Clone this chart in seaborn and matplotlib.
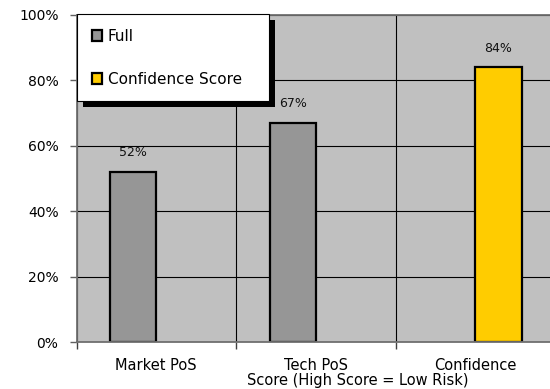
import matplotlib
matplotlib.use("Agg")
import matplotlib.pyplot as plt
import matplotlib.patches as mpatches
import seaborn as sns
import pandas as pd
from matplotlib.ticker import PercentFormatter, FixedLocator

categories = ["Market PoS", "Tech PoS", "Confidence"]
series = ["Full", "Full", "Confidence Score"]
values = [0.52, 0.67, 0.84]
series_order = ["Full", "Confidence Score"]
series_colors = {"Full": "#969696", "Confidence Score": "#FFCC00"}
y_ticks = [0, 0.2, 0.4, 0.6, 0.8, 1.0]
label_second_line = "Score (High Score = Low Risk)"

df = pd.DataFrame({"category": categories, "series": series, "value": values})

sns.set_theme(style="white")
plt.rcParams["font.family"] = ["DejaVu Sans"]

W, H, DPI = 550, 389, 100
fig = plt.figure(figsize=(W / DPI, H / DPI), dpi=DPI)
ax = fig.add_axes([76.5 / W, 1 - 342 / H, (555.2 - 76.5) / W, (342 - 15) / H])
ax.set_facecolor("#C0C0C0")

sns.barplot(data=df, x="category", y="value", hue="series", hue_order=series_order,
            order=categories, palette=series_colors, width=0.58, dodge=True,
            edgecolor="black", linewidth=1.6, saturation=1, errorbar=None, ax=ax)

ax.set_xlim(-0.5, 2.5)
ax.set_ylim(0, 1.0)
ax.set_xlabel("")
ax.set_ylabel("")

# y axis
ax.yaxis.set_major_locator(FixedLocator(y_ticks))
ax.yaxis.set_major_formatter(PercentFormatter(1.0, decimals=0))
ax.tick_params(axis="y", which="major", direction="out", length=5, width=1,
               color="#606060", pad=8, labelsize=10, labelcolor="black", left=True)
ax.grid(axis="y", which="major", color="black", linewidth=0.8)

# x axis
ax.set_xticks(range(len(categories)))
ax.set_xticklabels(categories)
ax.set_xticks([-0.5, 0.5, 1.5, 2.5], minor=True)
ax.tick_params(axis="x", which="major", length=0, pad=11.5, labelsize=10.5, labelcolor="black")
ax.tick_params(axis="x", which="minor", direction="out", length=5, width=1,
               color="#404040", bottom=True)
ax.grid(axis="x", which="minor", color="black", linewidth=0.8)
ax.grid(axis="x", which="major", visible=False)
ax.set_axisbelow(True)

for side in ["left", "bottom", "top", "right"]:
    ax.spines[side].set_visible(True)
    ax.spines[side].set_color("#707070")
    ax.spines[side].set_linewidth(1.3)

# second line of third category label
ax.annotate(label_second_line, xy=(1.26, 0), xycoords=("data", "axes fraction"),
            xytext=(0, -31.3), textcoords="offset points", ha="center", va="baseline",
            fontsize=10.5, color="black", annotation_clip=False)

# data labels
for cont in ax.containers:
    labels = [f"{v:.0%}" if v == v else "" for v in cont.datavalues]
    ax.bar_label(cont, labels=labels, padding=9, fontsize=9, color="#111111")

# legend
handles, labels = ax.get_legend_handles_labels()
if ax.get_legend() is not None:
    ax.get_legend().remove()
leg_x0, leg_top, leg_w = 77 / W, 1 - 14 / H, 192 / W
leg = ax.legend(handles, labels, loc="upper left", mode="expand",
                bbox_to_anchor=(leg_x0, leg_top - 0.01, leg_w, 0.01),
                bbox_transform=fig.transFigure,
                borderaxespad=0, fancybox=False, frameon=True, fontsize=11,
                handlelength=0.7, handleheight=0.7, handletextpad=0.35,
                labelspacing=1.85, borderpad=0.95, labelcolor="black")
leg.get_frame().set_facecolor("white")
leg.get_frame().set_edgecolor("black")
leg.get_frame().set_linewidth(0.8)
leg.get_frame().set_alpha(1)
leg.set_zorder(10)

fig.canvas.draw()
bb = leg.get_window_extent()
shadow = mpatches.Rectangle((bb.x0 + 6, bb.y0 - 6), bb.width, bb.height,
                            transform=None, facecolor="black", edgecolor="none",
                            zorder=9.5, clip_on=False)
ax.add_artist(shadow)

fig.savefig("out.png", dpi=DPI)
